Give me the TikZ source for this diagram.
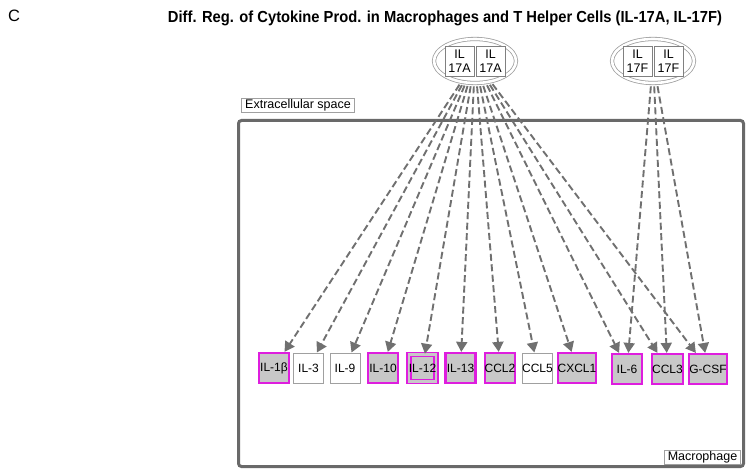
\documentclass[tikz,border=0pt]{standalone}
\usepackage{fontspec}
\setmainfont{Liberation Sans}
\usetikzlibrary{arrows.meta,shapes.geometric}

\definecolor{hl}{RGB}{222,30,222}
\definecolor{molfill}{RGB}{200,200,200}
\definecolor{linkgray}{RGB}{112,112,112}
\definecolor{cellgray}{RGB}{105,105,105}
\definecolor{thingray}{RGB}{160,160,160}

\tikzset{
  mol/.style={rectangle, minimum width=30pt, minimum height=30pt, inner sep=0pt,
              font=\fontsize{12}{14}\selectfont},
  hit/.style={mol, draw=hl, line width=2.2pt, fill=molfill},
  plain/.style={mol, draw=thingray, line width=1pt, fill=white},
  hitdouble/.style={mol, minimum width=27pt, minimum height=27pt, draw=hl, fill=molfill,
              line width=1.6pt, double=molfill, double distance=2.4pt},
  link/.style={draw=linkgray, line width=1.9pt, dash pattern=on 7pt off 3.5pt,
               shorten <=3pt, -{Triangle[length=10pt,width=11pt]}},
  cplx/.style={ellipse, minimum width=82pt, minimum height=44pt, draw=thingray,
               line width=0.8pt, double=white, double distance=2.6pt},
  subunit/.style={rectangle, draw=gray, line width=0.8pt, minimum width=29pt,
               minimum height=30pt, inner sep=0pt, align=center, fill=white,
               font=\fontsize{12.5}{13.5}\selectfont},
  tag/.style={draw=thingray, line width=0.8pt, fill=white, inner ysep=1.5pt,
              inner xsep=3.5pt, font=\fontsize{12.5}{14}\selectfont},
  cell/.style={draw=cellgray, line width=3pt, rounded corners=3pt,
               minimum width=505pt, minimum height=346pt, inner sep=0pt}
}

\begin{document}
\begin{tikzpicture}[x=1pt,y=-1pt]
\useasboundingbox (0,0) rectangle (752,470);

% panel letter and title
\node[font=\fontsize{16}{18}\selectfont] (panel) at (14,16) {\resizebox{!}{11.5pt}{C}};
\node[font=\fontsize{16}{18}\selectfont\bfseries] (title) at (445,18)
  {\resizebox{554pt}{\height}{Diff. Reg. of Cytokine Prod. in Macrophages and T Helper Cells (IL-17A, IL-17F)}};

% macrophage compartment
\node[cell] (macro) at (491,293.5) {};
\node[tag] (extra) at (298,105.5) {Extracellular space};
\node[tag] (maclab) at (702.5,457.5) {Macrophage};

% IL-17A and IL-17F dimers
\node[cplx] (A) at (475,61) {};
\node[subunit] (A1) at (459.5,61) {IL\\17A};
\node[subunit] (A2) at (490.5,61) {IL\\17A};
\node[cplx] (F) at (653,61) {};
\node[subunit] (F1) at (637.5,61) {IL\\17F};
\node[subunit] (F2) at (668.5,61) {IL\\17F};

% target cytokines
\node[hit]   (il1b)  at (274,368)   {IL-1β};
\node[plain] (il3)   at (308.5,368) {IL-3};
\node[plain] (il9)   at (345,368)   {IL-9};
\node[hit]   (il10)  at (383,368)   {IL-10};
\node[hitdouble] (il12) at (422.5,368) {IL-12};
\node[hit]   (il13)  at (460.5,368) {IL-13};
\node[hit]   (ccl2)  at (500,368)   {CCL2};
\node[plain] (ccl5)  at (537.5,368) {CCL5};
\node[hit, minimum width=32pt] (cxcl1) at (577,368) {CXCL1};
\node[hit]   (il6)   at (627,369)   {IL-6};
\node[hit]   (ccl3)  at (667.5,369) {CCL3};
\node[hit]   (gcsf)  at (708,369)   {G-CSF};

% regulation links
\foreach \t in {il1b,il3,il9,il10,il12,il13,ccl2,ccl5,cxcl1,il6,ccl3,gcsf}
  \draw[link] (A) -- (\t);
\foreach \t in {il6,ccl3,gcsf}
  \draw[link] (F) -- (\t);
\end{tikzpicture}
\end{document}
